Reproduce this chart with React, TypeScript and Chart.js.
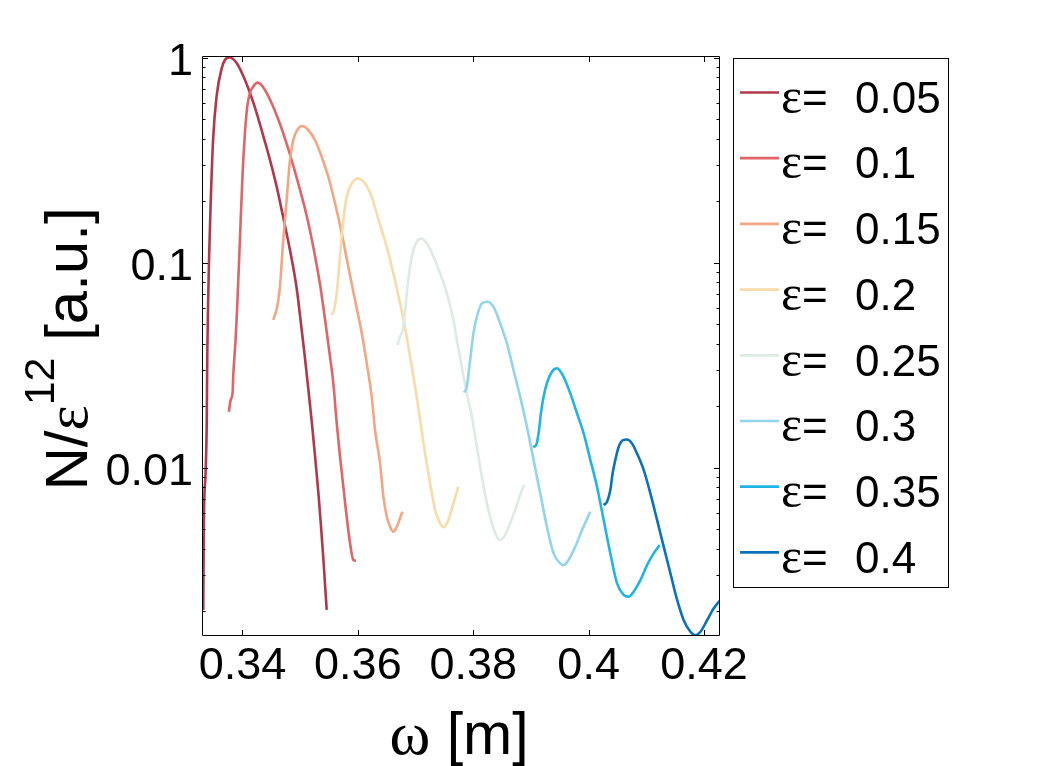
import { useEffect, useRef } from 'react';
import { Chart, registerables } from 'chart.js';

Chart.register(...registerables);

// epsilon values shown in the legend, one per curve
const EPS_LABELS = ['0.05', '0.1', '0.15', '0.2', '0.25', '0.3', '0.35', '0.4'];
const COLORS = ['#b0384a', '#e06568', '#f4a582', '#f7dba8', '#ddebe3', '#92d4ec', '#1fb4e6', '#0a72b8'];

// omega [m] / N/eps^12 for each epsilon
const W05 = [0.3332, 0.3333, 0.3336, 0.3338, 0.3339, 0.3342, 0.3345, 0.3349, 0.3355, 0.3364, 0.3372, 0.3378, 0.33899, 0.34014, 0.3413, 0.34246, 0.34355, 0.34477, 0.34593, 0.34702, 0.34823, 0.3494, 0.35026, 0.35083, 0.35141, 0.35199, 0.35256, 0.35314, 0.35359, 0.35403, 0.35459];
const N05 = [0.00202, 0.00536, 0.0094, 0.0165, 0.0354, 0.103, 0.202, 0.396, 0.644, 0.886, 0.99, 1.0, 0.94, 0.812, 0.671, 0.536, 0.419, 0.316, 0.234, 0.168, 0.115, 0.0745, 0.0469, 0.0342, 0.0241, 0.0169, 0.0115, 0.00759, 0.00525, 0.00354, 0.00202];

const W10 = [0.33764, 0.33794, 0.33828, 0.33839, 0.33856, 0.3388, 0.33908, 0.33955, 0.34002, 0.34042, 0.34082, 0.34128, 0.34186, 0.34262, 0.34331, 0.3442, 0.34534, 0.3465, 0.34766, 0.34881, 0.34997, 0.35113, 0.35227, 0.35343, 0.3546, 0.35517, 0.35574, 0.35633, 0.3569, 0.35748, 0.35806, 0.35864, 0.35921, 0.35968];
const N10 = [0.0187, 0.0213, 0.0231, 0.0277, 0.0334, 0.0419, 0.0608, 0.129, 0.273, 0.428, 0.575, 0.671, 0.721, 0.754, 0.734, 0.671, 0.574, 0.474, 0.379, 0.296, 0.226, 0.169, 0.119, 0.0785, 0.0458, 0.0347, 0.0258, 0.0165, 0.0113, 0.00806, 0.00575, 0.00428, 0.00354, 0.00351];

const W15 = [0.34533, 0.34602, 0.34649, 0.34706, 0.34765, 0.34823, 0.3488, 0.34949, 0.35036, 0.3514, 0.35256, 0.35373, 0.35487, 0.35603, 0.3572, 0.35834, 0.3595, 0.36067, 0.36153, 0.3624, 0.36298, 0.36384, 0.36442, 0.36501, 0.36558, 0.36615, 0.36674, 0.36732, 0.36771];
const N15 = [0.0525, 0.0608, 0.0762, 0.129, 0.202, 0.316, 0.396, 0.443, 0.463, 0.443, 0.396, 0.328, 0.262, 0.195, 0.139, 0.0954, 0.0656, 0.0453, 0.0323, 0.0221, 0.0152, 0.0105, 0.00721, 0.00575, 0.00514, 0.00486, 0.00514, 0.00567, 0.00608];

const W20 = [0.35546, 0.35586, 0.35633, 0.3569, 0.35748, 0.35806, 0.35893, 0.36008, 0.36124, 0.3624, 0.36355, 0.36501, 0.36615, 0.36732, 0.36836, 0.36905, 0.36992, 0.37079, 0.37165, 0.37252, 0.37339, 0.37425, 0.37483, 0.3757, 0.37656, 0.37743];
const N20 = [0.0555, 0.0587, 0.0708, 0.107, 0.161, 0.209, 0.243, 0.257, 0.243, 0.209, 0.163, 0.119, 0.0886, 0.0632, 0.0451, 0.0347, 0.0248, 0.0171, 0.0117, 0.00838, 0.00621, 0.00535, 0.00511, 0.00555, 0.00669, 0.00806];

const W25 = [0.36685, 0.36732, 0.36789, 0.36848, 0.36905, 0.36962, 0.37021, 0.37096, 0.37195, 0.37309, 0.37425, 0.37542, 0.37656, 0.37715, 0.37802, 0.37889, 0.37976, 0.38062, 0.38149, 0.38236, 0.38323, 0.3841, 0.38467, 0.38554, 0.3864, 0.38727, 0.38814, 0.38883];
const N25 = [0.0396, 0.0435, 0.0486, 0.0708, 0.0954, 0.115, 0.126, 0.131, 0.124, 0.107, 0.0886, 0.0708, 0.0525, 0.0419, 0.031, 0.023, 0.0177, 0.0126, 0.00902, 0.00669, 0.00535, 0.00459, 0.00443, 0.00469, 0.00535, 0.00621, 0.00735, 0.00822];

const W30 = [0.37842, 0.37889, 0.37946, 0.38003, 0.38063, 0.38149, 0.38247, 0.38351, 0.38467, 0.38583, 0.38698, 0.38814, 0.3893, 0.39045, 0.39161, 0.39277, 0.39392, 0.39508, 0.39565, 0.39652, 0.39768, 0.39885, 0.40029];
const N30 = [0.0232, 0.0248, 0.0334, 0.0451, 0.0544, 0.0632, 0.0644, 0.0608, 0.0505, 0.0404, 0.0299, 0.0221, 0.0158, 0.0109, 0.00748, 0.00514, 0.00381, 0.00341, 0.00334, 0.00354, 0.00411, 0.00495, 0.00608];

const W35 = [0.39035, 0.39092, 0.39132, 0.39173, 0.39218, 0.39277, 0.39364, 0.39451, 0.39565, 0.39682, 0.39798, 0.39913, 0.40029, 0.40145, 0.4026, 0.40376, 0.40492, 0.40607, 0.40694, 0.40781, 0.40897, 0.41013, 0.41127, 0.41231];
const N35 = [0.0126, 0.0129, 0.0147, 0.0184, 0.0221, 0.0258, 0.0293, 0.0305, 0.0277, 0.023, 0.0184, 0.0147, 0.0109, 0.00806, 0.00555, 0.00381, 0.00272, 0.00239, 0.00234, 0.00248, 0.00282, 0.00334, 0.00381, 0.00419];

const W40 = [0.4026, 0.40319, 0.40376, 0.40416, 0.40463, 0.4052, 0.40596, 0.40666, 0.40752, 0.40839, 0.40954, 0.4107, 0.41186, 0.41301, 0.41417, 0.41534, 0.41648, 0.41764, 0.41851, 0.41938, 0.42054, 0.42169, 0.42285];
const N40 = [0.00656, 0.00681, 0.00776, 0.00937, 0.0109, 0.0126, 0.0136, 0.0137, 0.0131, 0.0117, 0.00973, 0.00748, 0.00555, 0.00411, 0.00305, 0.00226, 0.0018, 0.00158, 0.00152, 0.00158, 0.0018, 0.00206, 0.00226];

const OMEGAS = [W05, W10, W15, W20, W25, W30, W35, W40];
const VALUES = [N05, N10, N15, N20, N25, N30, N35, N40];

const X_TICKS = [0.34, 0.36, 0.38, 0.4, 0.42];
const X_TICK_LABELS = ['0.34', '0.36', '0.38', '0.4', '0.42'];
const Y_MAJOR = [0.01, 0.1, 1];
const Y_TICK_LABELS = ['0.01', '0.1', '1'];
const Y_DECADES = [0.001, 0.01, 0.1, 1];

const X_MIN = 0.33298;
const X_MAX = 0.42277;
const Y_MIN = 0.001507;
const Y_MAX = 1.017;

const SANS = 'Liberation Sans';
const SERIF = 'Liberation Serif';

type Part = { text: string; font: string; dy?: number };

function drawParts(ctx: CanvasRenderingContext2D, parts: Part[], cx: number, base: number) {
  const widths = parts.map(p => { ctx.font = p.font; return ctx.measureText(p.text).width; });
  let x = cx - widths.reduce((a, b) => a + b, 0) / 2;
  parts.forEach((p, i) => {
    ctx.font = p.font;
    ctx.fillText(p.text, x, base + (p.dy || 0));
    x += widths[i];
  });
}

const framePlugin = {
  id: 'matlabFrame',
  afterDatasetsDraw(chart: any) {
    const { ctx, chartArea: a, scales } = chart;
    const L = Math.round(a.left) + 0.5;
    const R = Math.round(a.right) - 0.5;
    const T = Math.round(a.top) + 0.5;
    const B = Math.round(a.bottom) - 0.5;
    ctx.save();
    ctx.strokeStyle = '#000';
    ctx.lineWidth = 1;
    ctx.beginPath();
    ctx.rect(L, T, R - L, B - T);
    // inward ticks on all four sides
    for (const t of scales.x.ticks) {
      const px = Math.round(scales.x.getPixelForValue(t.value)) + 0.5;
      ctx.moveTo(px, B); ctx.lineTo(px, B - 5.5);
      ctx.moveTo(px, T); ctx.lineTo(px, T + 5.5);
    }
    for (const t of scales.y.ticks) {
      const py = Math.round(scales.y.getPixelForValue(t.value)) + 0.5;
      const len = t.major ? 5.5 : 3;
      ctx.moveTo(L, py); ctx.lineTo(L + len, py);
      ctx.moveTo(R, py); ctx.lineTo(R - len, py);
    }
    ctx.stroke();

    // axis titles
    ctx.fillStyle = '#000';
    ctx.textAlign = 'left';
    ctx.textBaseline = 'alphabetic';
    drawParts(ctx, [
      { text: 'ω', font: `62px ${SERIF}` },
      { text: ' [m]', font: `59px ${SANS}` },
    ], 459, 754);

    ctx.save();
    ctx.translate(87, 349);
    ctx.rotate(-Math.PI / 2);
    drawParts(ctx, [
      { text: 'N/', font: `60px ${SANS}` },
      { text: 'ε', font: `60px ${SERIF}` },
      { text: '12', font: `43px ${SANS}`, dy: -33 },
      { text: ' [a.u.]', font: `60px ${SANS}` },
    ], 0, 0);
    ctx.restore();

    // legend
    ctx.strokeRect(733.5, 58.5, 215, 529);
    chart.data.datasets.forEach((ds: any, i: number) => {
      const yl = 92.5 + 65.7 * i;
      const yb = 112.7 + 65.7 * i;
      ctx.strokeStyle = ds.borderColor;
      ctx.lineWidth = 2.7;
      ctx.beginPath();
      ctx.moveTo(740, yl);
      ctx.lineTo(779, yl);
      ctx.stroke();
      ctx.fillStyle = '#000';
      ctx.font = `50px ${SERIF}`;
      ctx.fillText('ε', 781, yb);
      ctx.font = `44px ${SANS}`;
      ctx.fillText('=', 802, yb);
      ctx.fillText(EPS_LABELS[i], 855, yb);
    });
    ctx.restore();
  },
};

export default function App() {
  const chartRef = useRef<HTMLCanvasElement>(null);
  const chartInstance = useRef<Chart | null>(null);

  useEffect(() => {
    if (!chartRef.current) return;
    if (chartInstance.current) chartInstance.current.destroy();
    const ctx = chartRef.current.getContext('2d');
    if (!ctx) return;

    chartInstance.current = new Chart(ctx, {
      type: 'line',
      data: {
        datasets: EPS_LABELS.map((eps, i) => ({
          label: `ε=  ${eps}`,
          data: OMEGAS[i].map((w, j) => ({ x: w, y: VALUES[i][j] })),
          borderColor: COLORS[i],
          borderWidth: 2.6,
          pointRadius: 0,
          fill: false,
          cubicInterpolationMode: 'monotone' as const,
          order: EPS_LABELS.length - i,
        })),
      },
      options: {
        responsive: true,
        maintainAspectRatio: false,
        animation: false,
        layout: { padding: { left: 0, top: 56, right: 329, bottom: 0 } },
        plugins: {
          legend: { display: false },
          tooltip: { enabled: false },
        },
        scales: {
          x: {
            type: 'linear',
            min: X_MIN,
            max: X_MAX,
            afterBuildTicks: (scale: any) => {
              scale.ticks = X_TICKS.map(v => ({ value: v, major: true }));
            },
            afterFit: (scale: any) => { scale.height = 130; },
            grid: { display: false, drawTicks: false },
            border: { display: false },
            ticks: {
              autoSkip: false,
              maxRotation: 0,
              minRotation: 0,
              padding: 4,
              color: '#000',
              font: { family: SANS, size: 45 },
              callback: (_v: any, index: number) => X_TICK_LABELS[index],
            },
          },
          y: {
            type: 'logarithmic',
            min: Y_MIN,
            max: Y_MAX,
            afterBuildTicks: (scale: any) => {
              const ticks: { value: number; major: boolean }[] = [];
              Y_DECADES.forEach(d => {
                for (let k = 1; k <= 9; k++) {
                  const v = Number((k * d).toPrecision(3));
                  if (v >= Y_MIN && v <= Y_MAX) ticks.push({ value: v, major: k === 1 });
                }
              });
              scale.ticks = ticks;
            },
            afterFit: (scale: any) => { scale.width = 202; },
            grid: { display: false, drawTicks: false },
            border: { display: false },
            ticks: {
              autoSkip: false,
              padding: 9,
              labelOffset: 5,
              color: '#000',
              font: { family: SANS, size: 45 },
              callback: (v: any) => {
                const idx = Y_MAJOR.findIndex(m => Math.abs(m - Number(v)) < m * 1e-6);
                return idx >= 0 ? Y_TICK_LABELS[idx] : '';
              },
            },
          },
        },
      },
      plugins: [framePlugin],
    });

    return () => {
      if (chartInstance.current) {
        chartInstance.current.destroy();
        chartInstance.current = null;
      }
    };
  }, []);

  return (
    <div style={{ position: 'fixed', left: 0, top: 0, width: 1049, height: 766, background: '#fff' }}>
      <canvas ref={chartRef} />
    </div>
  );
}
